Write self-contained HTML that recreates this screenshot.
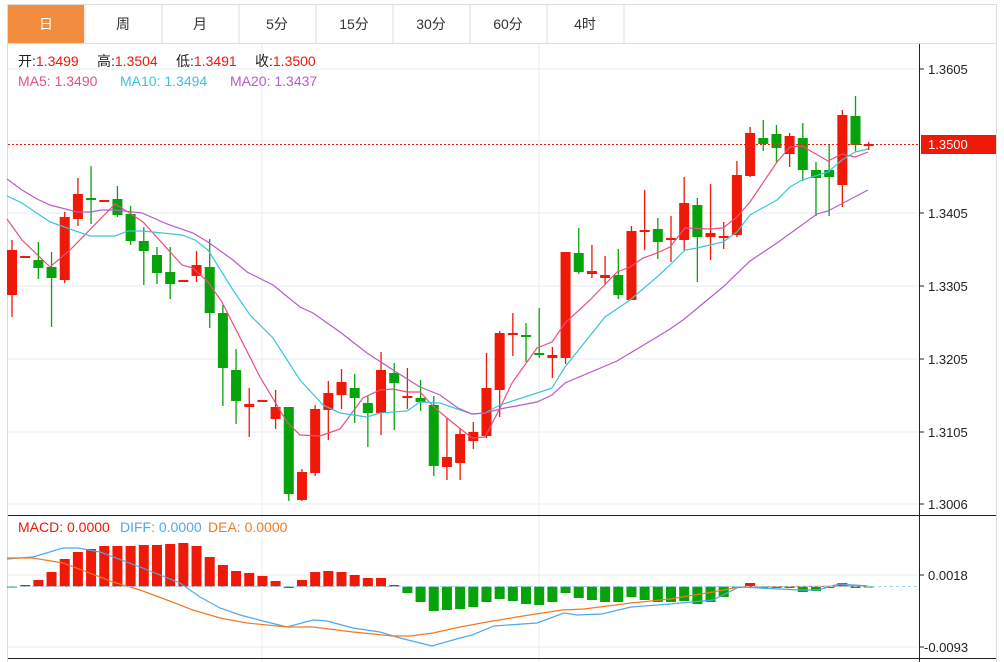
<!DOCTYPE html>
<html><head><meta charset="utf-8"><style>
html,body{margin:0;padding:0;background:#fff;width:1004px;height:662px;overflow:hidden;font-family:"Liberation Sans","Noto Sans CJK SC",sans-serif}
</style></head><body>
<svg id="s" width="1004" height="662" xmlns="http://www.w3.org/2000/svg" style="position:absolute;left:0;top:0;font-family:'Liberation Sans','Noto Sans CJK SC',sans-serif">
<rect x="7.5" y="4.5" width="989" height="670" fill="none" stroke="#ddd"/>
<rect x="8" y="5" width="76" height="38" fill="#f28c3f"/>
<g stroke="#ddd"><line x1="85" y1="5" x2="85" y2="43"/><line x1="162" y1="5" x2="162" y2="43"/><line x1="239" y1="5" x2="239" y2="43"/><line x1="316" y1="5" x2="316" y2="43"/><line x1="393" y1="5" x2="393" y2="43"/><line x1="470" y1="5" x2="470" y2="43"/><line x1="547" y1="5" x2="547" y2="43"/><line x1="624" y1="5" x2="624" y2="43"/><line x1="8" y1="43.5" x2="996" y2="43.5"/></g>
<g font-size="14" text-anchor="middle" fill="#333"><text x="46" y="29" fill="#fff">日</text><text x="123" y="29">周</text><text x="200" y="29">月</text><text x="277" y="29">5分</text><text x="354" y="29">15分</text><text x="431" y="29">30分</text><text x="508" y="29">60分</text><text x="585" y="29">4时</text></g>
<g stroke="#e6edf3"><line x1="8" y1="69" x2="918" y2="69"/><line x1="8" y1="141" x2="918" y2="141"/><line x1="8" y1="213" x2="918" y2="213"/><line x1="8" y1="286" x2="918" y2="286"/><line x1="8" y1="359" x2="918" y2="359"/><line x1="8" y1="432" x2="918" y2="432"/><line x1="8" y1="504" x2="918" y2="504"/><line x1="8" y1="575" x2="918" y2="575"/><line x1="8" y1="647" x2="918" y2="647"/><line x1="262" y1="44" x2="262" y2="662"/><line x1="539" y1="44" x2="539" y2="662"/></g>
<g id="c"></g>
<line x1="8" y1="144.5" x2="918" y2="144.5" stroke="#f01807" stroke-dasharray="2,2"/>
<line x1="8" y1="586.5" x2="918" y2="586.5" stroke="#9fd3f0" stroke-dasharray="3,3"/>
<g stroke="#222"><line x1="8" y1="515.5" x2="996" y2="515.5"/><line x1="8" y1="658.5" x2="996" y2="658.5"/><line x1="919.5" y1="44" x2="919.5" y2="662"/>
<line x1="920" y1="69" x2="924" y2="69"/><line x1="920" y1="213" x2="924" y2="213"/><line x1="920" y1="286" x2="924" y2="286"/><line x1="920" y1="359" x2="924" y2="359"/><line x1="920" y1="432" x2="924" y2="432"/><line x1="920" y1="504" x2="924" y2="504"/><line x1="920" y1="575" x2="924" y2="575"/><line x1="920" y1="647" x2="924" y2="647"/></g>
<rect x="921" y="135" width="75" height="19" fill="#f01807"/>
<g font-size="13" fill="#222"><text x="928" y="74">1.3605</text><text x="928" y="218">1.3405</text><text x="928" y="291">1.3305</text><text x="928" y="364">1.3205</text><text x="928" y="437">1.3105</text><text x="928" y="509">1.3006</text><text x="928" y="580">0.0018</text><text x="924" y="652">-0.0093</text><text x="928" y="149" fill="#fff">1.3500</text></g>
<g font-size="14">
<text x="18" y="66" fill="#222">开:<tspan fill="#f01807">1.3499</tspan></text>
<text x="97" y="66" fill="#222">高:<tspan fill="#f01807">1.3504</tspan></text>
<text x="176" y="66" fill="#222">低:<tspan fill="#f01807">1.3491</tspan></text>
<text x="255" y="66" fill="#222">收:<tspan fill="#f01807">1.3500</tspan></text>
<text x="18" y="86" fill="#e8507e">MA5: 1.3490</text>
<text x="120" y="86" fill="#3cc3dd">MA10: 1.3494</text>
<text x="230" y="86" fill="#b65ccc">MA20: 1.3437</text>
<text x="18" y="532" fill="#f01807">MACD: 0.0000</text>
<text x="120" y="532" fill="#4ea8f0">DIFF: 0.0000</text>
<text x="208" y="532" fill="#f07a20">DEA: 0.0000</text></g>
</svg>
<script>
var R='#f01807',G='#07a30a';
var C=[[1,250,295,240,317],[1,256,258,256,258],[0,260,268,242,279],[0,267,278,252,327],[1,217,280,212,283],[1,194,219,178,226],[0,198,200,166,224],[1,200,202,200,202],[0,199,215,186,217],[0,214,241,206,245],[0,241,251,227,285],[0,255,273,247,284],[0,272,284,247,299],[1,280,282,280,282],[1,265,276,251,282],[0,267,313,239,328],[0,313,368,305,406],[0,370,401,349,424],[1,404,407,388,437],[1,400,402,400,402],[1,407,419,390,429],[0,407,494,407,501],[1,472,500,469,501],[1,409,473,405,476],[1,393,410,381,440],[1,382,395,369,409],[0,388,398,374,423],[0,403,413,396,447],[1,370,413,352,435],[0,373,383,363,430],[1,396,398,368,409],[0,398,402,380,411],[0,405,466,396,476],[1,457,467,418,480],[1,434,463,428,480],[1,432,441,422,449],[1,388,436,353,438],[1,333,390,331,417],[1,333,335,313,356],[0,335,337,323,362],[0,353,355,308,358],[1,355,358,347,378],[1,252,358,252,364],[0,253,272,228,274],[1,271,274,245,278],[1,275,278,256,285],[0,275,295,249,299],[1,231,300,226,300],[1,230,232,190,250],[0,229,242,218,259],[1,238,240,216,262],[1,203,240,177,250],[0,205,237,198,282],[1,233,237,184,260],[1,236,238,222,249],[1,175,235,161,237],[1,133,176,127,177],[0,138,144,120,151],[0,134,148,125,162],[1,136,154,133,167],[0,138,170,123,181],[0,170,178,162,216],[0,170,177,144,216],[1,115,185,110,207],[0,116,145,96,151],[1,144,146,142,150]];
var H=[587,585,580,572,559,552,549,546,546,546,545,545,544,543,546,557,565,571,573,576,581,588,580,572,571,572,575,578,578,585,593,602,611,610,609,607,602,599,601,604,605,602,593,598,600,602,602,597,600,602,602,601,604,602,597,588,583,588,588,588,592,591,588,583,588,587];
var s='';function X(i){return 12+i*13.18;}
for(var i=0;i<C.length;i++){var c=C[i],x=X(i),col=c[0]?R:G;
s+='<line x1="'+x+'" y1="'+c[3]+'" x2="'+x+'" y2="'+c[4]+'" stroke="'+col+'" stroke-width="1.3"/>';
s+='<rect x="'+(x-5)+'" y="'+c[1]+'" width="10" height="'+Math.max(2,c[2]-c[1])+'" fill="'+col+'"/>';
var h=H[i],z=586.5;col=h<z?R:G;
s+='<rect x="'+(x-5)+'" y="'+Math.min(h,z)+'" width="10" height="'+Math.max(1,Math.abs(h-z))+'" fill="'+col+'"/>';}
function P(pts,col){s+='<polyline fill="none" stroke="'+col+'" stroke-width="1.2" points="'+pts+'"/>';}
P('7,219 22,240 50,267 70,250 115,204 128,212 143,222 182,265 193,268 208,282 222,302 260,377 287,422 300,435 320,436 340,429 363,398 380,390 393,389 407,392 420,392 435,408 447,418 472,438 485,437 500,408 512,383 537,348 552,342 565,323 590,300 617,272 630,267 643,258 657,253 670,247 685,228 710,229 723,228 737,217 750,202 777,162 790,147 802,146 828,161 842,154 855,157 868,152','#e8507e');
P('7,196 22,203 50,222 90,236 115,236 128,231 143,231 182,235 195,240 208,250 233,290 250,315 273,338 300,380 323,405 340,413 367,417 380,413 407,411 420,402 440,403 472,414 485,413 500,405 537,393 552,388 565,367 605,317 630,300 657,277 670,265 685,250 697,248 723,242 737,232 750,215 777,200 790,187 802,180 828,172 842,160 855,152 868,149','#3cc3dd');
P('7,179 22,190 37,199 50,205 77,212 90,212 102,210 115,210 142,213 167,224 193,233 208,242 233,260 247,272 273,285 300,307 313,313 340,332 367,353 393,370 420,387 440,395 458,408 472,414 485,413 500,409 537,402 552,395 565,383 617,361 632,352 657,337 670,329 683,320 723,287 750,261 777,243 817,214 828,211 868,190','#b65ccc');
P('7,559 33,557 63,548 78,548 100,552 140,567 180,583 200,597 220,608 240,615 267,622 287,627 313,620 327,621 353,628 380,632 400,638 432,646 460,638 472,635 494,626 537,623 564,613 577,615 602,614 631,607 670,604 713,600 739,587 800,590 818,590 839,584 868,586','#4ea8f0');
P('7,558 33,558 63,563 87,572 113,582 140,590 167,600 193,610 220,618 247,623 287,627 313,627 353,632 393,636 410,636 433,633 460,627 487,622 523,616 562,610 584,609 631,603 670,599 713,592 739,587 868,586','#f07a20');
document.getElementById('c').innerHTML=s;
</script>
</body></html>
